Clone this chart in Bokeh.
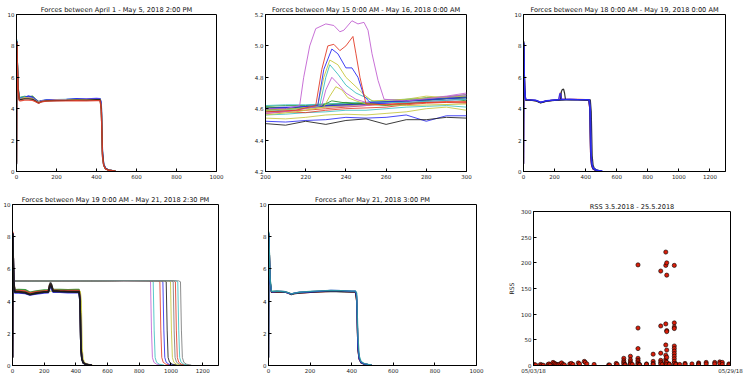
import pandas as pd
from bokeh.plotting import figure
from bokeh.layouts import column, row
from bokeh.models import Range1d, FixedTicker, DatetimeTickFormatter, PrintfTickFormatter, Spacer
from bokeh.embed import file_html
from bokeh.resources import INLINE

# ---------------- data ----------------
TITLES = [
    "Forces between April 1 - May 5, 2018 2:00 PM",
    "Forces between May 15 0:00 AM - May 16, 2018 0:00 AM",
    "Forces between May 18 0:00 AM - May 19, 2018 0:00 AM",
    "Forces between May 19 0:00 AM - May 21, 2018 2:30 PM",
    "Forces after May 21, 2018 3:00 PM",
    "RSS 3.5.2018 - 25.5.2018",
]
TICKS_0_1000 = [0, 200, 400, 600, 800, 1000]
TICKS_0_1200 = [0, 200, 400, 600, 800, 1000, 1200]
TICKS_0_10 = [0, 2, 4, 6, 8, 10]
TICKS_200_300 = [200, 220, 240, 260, 280, 300]
TICKS_42_52 = [4.2, 4.4, 4.6, 4.8, 5.0, 5.2]
TICKS_RSS = [0, 50, 100, 150, 200, 250, 300]
DATE_TICKS = ["2018-05-03", "2018-05-29"]

# Panel 1 (April 1 - May 5)
P1_X = [0, 2, 4, 8, 14, 20, 40, 60, 80, 95, 110, 125, 150, 200, 250, 300, 350, 400, 418, 424, 430, 436, 445, 460, 480, 495]
P1_COLORS = ["g", "c", "b", "m", "y", "k", "r"]
P1_Y = [
    [0.6, 8.2, 7.2, 5.4, 4.7, 4.72, 4.78, 4.75, 4.8, 4.6, 4.45, 4.5, 4.55, 4.57, 4.56, 4.6, 4.58, 4.62, 4.6, 4.3, 1.2, 0.45, 0.2, 0.1, 0.06, 0.04],
    [0.4, 8.4, 7.0, 5.2, 4.65, 4.7, 4.75, 4.72, 4.7, 4.55, 4.42, 4.5, 4.55, 4.58, 4.6, 4.62, 4.6, 4.63, 4.62, 4.2, 1.0, 0.4, 0.18, 0.09, 0.05, 0.03],
    [0.5, 8.3, 7.1, 5.3, 4.62, 4.66, 4.7, 4.82, 4.72, 4.58, 4.43, 4.52, 4.56, 4.58, 4.6, 4.64, 4.62, 4.65, 4.64, 4.4, 1.3, 0.5, 0.22, 0.1, 0.06, 0.04],
    [0.5, 8.1, 6.9, 5.1, 4.6, 4.62, 4.68, 4.7, 4.66, 4.52, 4.4, 4.48, 4.52, 4.56, 4.56, 4.58, 4.6, 4.6, 4.6, 4.1, 0.9, 0.38, 0.17, 0.08, 0.05, 0.03],
    [0.5, 8.2, 7.0, 5.2, 4.58, 4.6, 4.7, 4.68, 4.64, 4.5, 4.4, 4.47, 4.5, 4.55, 4.55, 4.57, 4.56, 4.58, 4.58, 4.0, 1.0, 0.4, 0.17, 0.08, 0.05, 0.03],
    [0.5, 8.3, 7.1, 5.3, 4.55, 4.58, 4.62, 4.62, 4.6, 4.48, 4.36, 4.45, 4.5, 4.52, 4.53, 4.55, 4.55, 4.57, 4.57, 4.0, 1.1, 0.42, 0.18, 0.09, 0.05, 0.03],
    [0.5, 8.2, 7.0, 5.2, 4.52, 4.5, 4.55, 4.55, 4.53, 4.45, 4.35, 4.43, 4.48, 4.5, 4.5, 4.52, 4.5, 4.52, 4.52, 3.9, 1.0, 0.4, 0.17, 0.08, 0.05, 0.03],
]

# Panel 2 (zoom 200-300): baseline curves
P2_BASE_X = [200, 210, 220, 230, 240, 250, 260, 270, 280, 290, 300]
P2_BASE_COLORS = ["k", "b", "g", "r", "c", "y", "b", "k", "m", "y", "g", "r", "c", "b"]
P2_BASE_Y = [
    [4.60, 4.605, 4.61, 4.62, 4.625, 4.63, 4.64, 4.65, 4.655, 4.665, 4.675],
    [4.605, 4.61, 4.61, 4.615, 4.62, 4.63, 4.64, 4.645, 4.66, 4.67, 4.68],
    [4.615, 4.62, 4.62, 4.63, 4.63, 4.64, 4.645, 4.655, 4.67, 4.675, 4.69],
    [4.58, 4.585, 4.59, 4.60, 4.61, 4.62, 4.63, 4.635, 4.64, 4.645, 4.64],
    [4.56, 4.565, 4.575, 4.58, 4.59, 4.59, 4.60, 4.61, 4.615, 4.62, 4.61],
    [4.54, 4.535, 4.545, 4.56, 4.565, 4.56, 4.57, 4.58, 4.60, 4.61, 4.59],
    [4.52, 4.515, 4.525, 4.53, 4.545, 4.54, 4.545, 4.56, 4.52, 4.555, 4.555],
    [4.505, 4.495, 4.52, 4.50, 4.525, 4.535, 4.50, 4.53, 4.53, 4.545, 4.54],
    [4.595, 4.60, 4.605, 4.61, 4.615, 4.62, 4.635, 4.65, 4.665, 4.68, 4.70],
    [4.59, 4.595, 4.60, 4.61, 4.62, 4.63, 4.64, 4.66, 4.68, 4.67, 4.66],
    [4.61, 4.605, 4.61, 4.62, 4.64, 4.63, 4.62, 4.63, 4.65, 4.665, 4.65],
    [4.57, 4.58, 4.575, 4.59, 4.60, 4.605, 4.61, 4.625, 4.635, 4.64, 4.635],
    [4.62, 4.625, 4.625, 4.63, 4.635, 4.64, 4.655, 4.66, 4.665, 4.665, 4.66],
    [4.60, 4.605, 4.605, 4.62, 4.625, 4.63, 4.635, 4.65, 4.66, 4.67, 4.68],
]
# Panel 2: curves with a peak
P2_PEAK_COLORS = ["g", "y", "m", "c", "y", "b", "r", "m"]
P2_PEAK_X = [
    [200, 220, 228, 233, 238, 245, 270, 300],
    [200, 215, 229, 232, 235, 238, 241, 245, 250, 270, 300],
    [200, 215, 228, 230, 233, 236, 240, 245, 250, 270, 300],
    [200, 215, 227, 230, 232, 236, 240, 245, 250, 255, 270, 300],
    [200, 215, 226, 229, 232, 236, 240, 245, 249, 253, 270, 300],
    [200, 215, 226, 229, 233, 236, 240, 243, 246, 249, 252, 270, 300],
    [200, 215, 225, 228, 231, 234, 237, 240, 243.5, 245, 247, 250, 260, 280, 300],
    [200, 210, 217, 219, 222, 225, 230, 234, 237, 239, 243, 246, 249, 251, 253, 256, 259, 270, 285, 300],
]
P2_PEAK_Y = [
    [4.59, 4.61, 4.62, 4.65, 4.64, 4.63, 4.65, 4.67],
    [4.56, 4.58, 4.61, 4.68, 4.74, 4.72, 4.67, 4.65, 4.63, 4.62, 4.63],
    [4.57, 4.59, 4.62, 4.72, 4.80, 4.76, 4.70, 4.66, 4.64, 4.64, 4.66],
    [4.58, 4.60, 4.62, 4.80, 4.88, 4.82, 4.75, 4.70, 4.67, 4.64, 4.64, 4.66],
    [4.59, 4.60, 4.62, 4.80, 4.91, 4.88, 4.80, 4.74, 4.69, 4.65, 4.66, 4.68],
    [4.60, 4.61, 4.62, 4.85, 4.98, 4.95, 4.86, 4.86, 4.80, 4.68, 4.64, 4.65, 4.67],
    [4.58, 4.59, 4.62, 4.85, 5.00, 5.01, 4.97, 5.00, 5.06, 4.95, 4.80, 4.63, 4.625, 4.64, 4.645],
    [4.60, 4.60, 4.62, 4.80, 5.00, 5.11, 5.14, 5.13, 5.09, 5.10, 5.16, 5.14, 5.15, 5.10, 4.95, 4.78, 4.66, 4.65, 4.67, 4.69],
]

# Panel 3 (May 18 - May 19)
P3_COLORS = ["r", "m", "k", "k", "b", "b"]
P3_X = [
    [0, 2, 4, 8, 14, 40, 80, 110, 150, 200, 228, 233, 237, 241, 246, 300, 350, 400, 420, 426, 432, 438, 446, 460, 480, 500],
    [0, 2, 4, 8, 14, 40, 80, 110, 150, 200, 228, 233, 237, 241, 246, 300, 350, 400, 420, 426, 432, 438, 446, 460, 480, 500],
    [0, 2, 4, 8, 14, 40, 80, 110, 150, 200, 250, 300, 350, 400, 420, 426, 432, 438, 446, 460, 480, 500],
    [0, 2, 4, 8, 14, 40, 80, 110, 150, 200, 238, 244, 250, 258, 264, 270, 300, 350, 400, 430, 436, 442, 448, 456, 470, 490, 505],
    [0, 2, 4, 8, 14, 40, 80, 110, 150, 200, 226, 232, 236, 240, 246, 300, 350, 400, 420, 426, 432, 438, 446, 460, 480, 505],
    [0, 2, 4, 8, 14, 40, 80, 110, 150, 200, 250, 300, 350, 400, 425, 431, 437, 443, 452, 470, 490, 510],
]
P3_Y = [
    [0.5, 8.1, 6.9, 5.1, 4.57, 4.56, 4.52, 4.4, 4.5, 4.55, 4.58, 4.85, 5.02, 4.85, 4.6, 4.6, 4.6, 4.58, 4.58, 4.0, 1.0, 0.4, 0.18, 0.08, 0.05, 0.03],
    [0.5, 8.0, 6.9, 5.1, 4.56, 4.55, 4.52, 4.41, 4.5, 4.55, 4.57, 4.72, 4.82, 4.72, 4.6, 4.59, 4.58, 4.57, 4.57, 4.0, 1.0, 0.4, 0.18, 0.08, 0.05, 0.03],
    [0.5, 8.3, 7.1, 5.3, 4.55, 4.55, 4.5, 4.36, 4.48, 4.53, 4.55, 4.57, 4.56, 4.55, 4.55, 4.1, 1.1, 0.42, 0.18, 0.09, 0.05, 0.03],
    [0.5, 8.2, 7.0, 5.2, 4.55, 4.55, 4.52, 4.38, 4.5, 4.55, 4.58, 5.1, 5.22, 5.25, 5.0, 4.6, 4.58, 4.57, 4.56, 4.56, 3.8, 1.0, 0.4, 0.2, 0.1, 0.05, 0.03],
    [0.5, 8.2, 7.0, 5.2, 4.58, 4.56, 4.53, 4.4, 4.5, 4.55, 4.58, 4.9, 4.98, 4.9, 4.6, 4.6, 4.58, 4.58, 4.57, 4.2, 1.3, 0.5, 0.22, 0.1, 0.05, 0.03],
    [0.5, 8.2, 7.0, 5.2, 4.6, 4.57, 4.54, 4.42, 4.52, 4.56, 4.58, 4.6, 4.58, 4.57, 4.57, 4.0, 1.0, 0.4, 0.2, 0.1, 0.05, 0.03],
]

# Panel 4 (May 19 - May 21): upper group (long runs at ~5.25)
P4_UP_COLORS = ["m", "c", "r", "b", "k", "y", "grey", "r", "c", "grey"]
P4_UP_X = [
    [0, 2, 4, 8, 14, 100, 300, 500, 700, 859, 871, 877, 883, 892, 909, 939],
    [0, 2, 4, 8, 14, 100, 300, 500, 700, 876, 888, 894, 900, 909, 926, 956],
    [0, 2, 4, 8, 14, 100, 300, 500, 700, 918, 930, 936, 942, 951, 968, 998],
    [0, 2, 4, 8, 14, 100, 300, 500, 700, 937, 949, 955, 961, 970, 987, 1017],
    [0, 2, 4, 8, 14, 100, 300, 500, 700, 958, 970, 976, 982, 991, 1008, 1038],
    [0, 2, 4, 8, 14, 100, 300, 500, 700, 985, 997, 1003, 1009, 1018, 1035, 1065],
    [0, 2, 4, 8, 14, 100, 300, 500, 700, 1002, 1014, 1020, 1026, 1035, 1052, 1082],
    [0, 2, 4, 8, 14, 100, 300, 500, 700, 1016, 1028, 1034, 1040, 1049, 1066, 1096],
    [0, 2, 4, 8, 14, 100, 300, 500, 700, 1031, 1043, 1049, 1055, 1064, 1081, 1111],
    [0, 2, 4, 8, 14, 100, 300, 500, 700, 1048, 1060, 1066, 1072, 1081, 1098, 1128],
]
P4_UP_Y = [0.5, 8.2, 7.0, 5.5, 5.25, 5.24, 5.26, 5.25, 5.27, 5.26, 5.2, 2.2, 0.5, 0.2, 0.08, 0.03]
# Panel 4: lower group (drop near 430)
P4_LOW_X = [0, 2, 4, 8, 14, 40, 80, 110, 150, 200, 226, 232, 240, 248, 256, 300, 350, 400, 420, 426, 432, 438, 446, 460, 480, 500]
P4_LOW_COLORS = ["g", "r", "b", "k", "k"]
P4_LOW_Y = [
    [0.5, 8.1, 7.0, 5.2, 4.7, 4.72, 4.7, 4.55, 4.62, 4.68, 4.7, 4.8, 4.9, 4.85, 4.72, 4.72, 4.7, 4.72, 4.72, 4.2, 1.0, 0.4, 0.17, 0.08, 0.05, 0.03],
    [0.5, 8.3, 7.1, 5.3, 4.65, 4.66, 4.62, 4.5, 4.58, 4.63, 4.65, 4.9, 5.05, 4.9, 4.68, 4.66, 4.65, 4.66, 4.66, 4.2, 1.1, 0.42, 0.18, 0.09, 0.05, 0.03],
    [0.5, 8.2, 7.0, 5.2, 4.5, 4.5, 4.48, 4.38, 4.45, 4.5, 4.52, 4.8, 4.9, 4.7, 4.55, 4.55, 4.52, 4.52, 4.52, 4.0, 1.0, 0.4, 0.17, 0.08, 0.05, 0.03],
    [0.5, 8.2, 7.0, 5.2, 4.6, 4.6, 4.55, 4.42, 4.52, 4.58, 4.6, 4.95, 5.15, 5.0, 4.65, 4.62, 4.6, 4.6, 4.6, 4.1, 1.1, 0.42, 0.18, 0.09, 0.05, 0.03],
    [0.5, 8.2, 7.0, 5.2, 4.55, 4.55, 4.5, 4.4, 4.48, 4.55, 4.56, 4.7, 5.0, 4.85, 4.6, 4.58, 4.57, 4.56, 4.56, 4.0, 1.0, 0.4, 0.17, 0.08, 0.05, 0.03],
]
P4_YEL_X = [0, 2, 4, 8, 14, 40, 80, 110, 150, 200, 250, 300, 350, 400, 428, 434, 440, 446, 455, 470, 490, 505]
P4_YEL_Y = [0.5, 8.1, 7.0, 5.2, 4.62, 4.62, 4.58, 4.45, 4.55, 4.6, 4.62, 4.62, 4.6, 4.6, 4.6, 4.0, 1.0, 0.4, 0.18, 0.09, 0.05, 0.03]

# Panel 5 (after May 21)
P5_X = [0, 2, 4, 8, 14, 20, 40, 60, 80, 95, 110, 125, 150, 200, 250, 300, 350, 400, 418, 424, 430, 436, 445, 460, 480, 495]
P5_COLORS = ["r", "g", "m", "k", "b", "teal"]
P5_Y = [
    [0.5, 8.1, 7.0, 5.2, 4.55, 4.55, 4.56, 4.55, 4.55, 4.5, 4.42, 4.47, 4.5, 4.55, 4.58, 4.6, 4.6, 4.57, 4.57, 4.0, 1.0, 0.4, 0.17, 0.08, 0.05, 0.03],
    [0.5, 8.2, 7.1, 5.3, 4.6, 4.6, 4.62, 4.6, 4.58, 4.52, 4.45, 4.5, 4.54, 4.58, 4.62, 4.65, 4.64, 4.6, 4.6, 4.2, 1.1, 0.42, 0.18, 0.09, 0.05, 0.03],
    [0.5, 8.0, 6.9, 5.1, 4.57, 4.57, 4.58, 4.57, 4.56, 4.5, 4.43, 4.48, 4.52, 4.56, 4.6, 4.63, 4.62, 4.58, 4.58, 4.1, 1.0, 0.4, 0.17, 0.08, 0.05, 0.03],
    [0.5, 8.2, 7.0, 5.2, 4.55, 4.56, 4.57, 4.56, 4.55, 4.5, 4.4, 4.46, 4.5, 4.55, 4.58, 4.6, 4.58, 4.56, 4.56, 4.0, 1.0, 0.4, 0.17, 0.08, 0.05, 0.03],
    [0.5, 8.2, 7.0, 5.2, 4.6, 4.58, 4.6, 4.6, 4.58, 4.5, 4.45, 4.5, 4.55, 4.58, 4.62, 4.66, 4.65, 4.62, 4.62, 4.3, 1.2, 0.45, 0.2, 0.1, 0.06, 0.04],
    [0.5, 8.3, 7.2, 5.4, 4.6, 4.6, 4.62, 4.6, 4.58, 4.52, 4.44, 4.5, 4.55, 4.6, 4.63, 4.66, 4.65, 4.62, 4.62, 4.5, 1.8, 0.6, 0.25, 0.12, 0.07, 0.05],
]

# Panel 6: RSS scatter
RSS_TIME = [
    "2018-05-03 02:00", "2018-05-03 07:00", "2018-05-03 22:00", "2018-05-04 02:00", "2018-05-04 07:00",
    "2018-05-04 22:00", "2018-05-05 01:00", "2018-05-05 05:00", "2018-05-05 14:00", "2018-05-05 18:00",
    "2018-05-05 22:00", "2018-05-06 02:00", "2018-05-06 06:00", "2018-05-06 12:00", "2018-05-06 17:00",
    "2018-05-06 22:00", "2018-05-07 02:00", "2018-05-07 19:00", "2018-05-08 00:00", "2018-05-08 05:00",
    "2018-05-08 22:00", "2018-05-09 02:00", "2018-05-09 17:00", "2018-05-09 20:00", "2018-05-10 01:00",
    "2018-05-11 00:00", "2018-05-12 22:00", "2018-05-13 01:00", "2018-05-13 22:00", "2018-05-14 01:00",
    "2018-05-14 22:00", "2018-05-14 22:00", "2018-05-14 22:00", "2018-05-14 22:00",
    "2018-05-15 02:00", "2018-05-15 02:00",
    "2018-05-15 19:00", "2018-05-15 19:00", "2018-05-15 19:00", "2018-05-15 19:00", "2018-05-15 19:00",
    "2018-05-16 01:00",
    "2018-05-16 19:00", "2018-05-16 19:00", "2018-05-16 19:00", "2018-05-16 19:00", "2018-05-16 19:00",
    "2018-05-16 19:00", "2018-05-16 19:00", "2018-05-16 19:00",
    "2018-05-17 00:00", "2018-05-17 00:00", "2018-05-17 22:00", "2018-05-17 22:00",
    "2018-05-18 19:00", "2018-05-18 19:00", "2018-05-18 19:00", "2018-05-18 19:00",
    "2018-05-19 19:00", "2018-05-19 19:00", "2018-05-19 19:00", "2018-05-19 19:00", "2018-05-19 19:00",
    "2018-05-19 19:00", "2018-05-20 00:00",
    "2018-05-20 11:00", "2018-05-20 11:00", "2018-05-20 11:00", "2018-05-20 11:00", "2018-05-20 11:00",
    "2018-05-20 11:00", "2018-05-20 11:00", "2018-05-20 11:00",
    "2018-05-20 14:00", "2018-05-20 14:00", "2018-05-20 14:00", "2018-05-20 14:00", "2018-05-20 14:00",
    "2018-05-20 14:00", "2018-05-20 14:00", "2018-05-20 14:00",
    "2018-05-20 22:00", "2018-05-20 22:00",
    "2018-05-21 14:00", "2018-05-21 14:00", "2018-05-21 14:00", "2018-05-21 14:00", "2018-05-21 14:00",
    "2018-05-21 14:00", "2018-05-21 14:00", "2018-05-21 14:00", "2018-05-21 14:00", "2018-05-21 14:00",
    "2018-05-21 14:00", "2018-05-21 14:00",
    "2018-05-21 19:00", "2018-05-21 19:00", "2018-05-22 07:00", "2018-05-23 00:00", "2018-05-23 00:00",
    "2018-05-23 22:00", "2018-05-24 19:00", "2018-05-24 19:00", "2018-05-24 19:00",
    "2018-05-25 19:00", "2018-05-25 19:00", "2018-05-26 22:00", "2018-05-26 22:00",
    "2018-05-27 14:00", "2018-05-27 14:00", "2018-05-27 22:00", "2018-05-27 22:00",
    "2018-05-28 19:00", "2018-05-28 19:00",
]
RSS_VALUE = [
    2, 1, 2, 1, 0.5,
    2, 3, 1, 6, 4,
    3, 2, 1, 3, 5,
    2, 1, 3, 4, 2,
    5, 3, 8, 6, 3,
    2, 1, 1, 4, 2,
    14, 9, 6, 3,
    2, 1,
    18, 11, 7, 4, 2,
    2,
    196, 73, 33, 14, 10, 7, 4, 2,
    2, 1, 3, 2,
    22, 8, 4, 2,
    184, 77, 24, 10, 6, 3, 2,
    221, 195, 81, 40, 20, 12, 8, 4,
    200, 176, 68, 66, 30, 16, 6, 2,
    3, 2,
    195, 83, 75, 72, 38, 33, 28, 23, 18, 13, 8, 4,
    3, 2, 2, 4, 2,
    3, 5, 3, 1,
    6, 3, 6, 3,
    7, 4, 6, 2,
    3, 1,
]

# ---------------- styling ----------------
FONT = "DejaVu Sans"
COL = {"b": "#2a2af2", "g": "#2a8f2a", "r": "#e23c28", "c": "#3cc0c0", "m": "#c262d2",
       "y": "#c6c63c", "k": "#1a1a1a", "grey": "#7a7a7a", "teal": "#2a9a9a"}


def make_fig(title, w, h, left, right, top, bottom, xr, yr, xticks, yticks, x_axis_type="linear"):
    p = figure(width=w, height=h, output_backend="svg", toolbar_location=None,
               x_axis_type=x_axis_type, x_range=Range1d(*xr), y_range=Range1d(*yr),
               min_border_left=left, min_border_right=right,
               min_border_top=top, min_border_bottom=bottom)
    p.title.text = title
    p.title.text_font = FONT
    p.title.text_font_size = "6.6px"
    p.title.text_font_style = "normal"
    p.title.text_color = "#111111"
    p.title.align = "center"
    p.title.standoff = 2
    p.grid.visible = False
    p.outline_line_color = "black"
    p.outline_line_alpha = 1
    p.outline_line_width = 1
    p.background_fill_color = "white"
    p.border_fill_color = "white"
    for ax in p.axis:
        ax.axis_line_color = "black"
        ax.major_tick_in = 3
        ax.major_tick_out = 0
        ax.major_tick_line_color = "black"
        ax.minor_tick_line_color = None
        ax.major_label_text_font = FONT
        ax.major_label_text_font_size = "5.5px"
        ax.major_label_text_color = "#222222"
        ax.major_label_standoff = 2
    p.xaxis.ticker = FixedTicker(ticks=xticks)
    p.yaxis.ticker = FixedTicker(ticks=yticks)
    return p


# Top row (frames: y 14..171)
p1 = make_fig(TITLES[0], 245, 188, 16, 29, 14, 17, (0, 1000), (0, 10), TICKS_0_1000, TICKS_0_10)
for c, ys in zip(P1_COLORS, P1_Y):
    p1.line(P1_X, ys, line_color=COL[c], line_width=1.3, line_alpha=0.9)

p2 = make_fig(TITLES[1], 255, 188, 20, 34, 14, 17, (200, 300), (4.2, 5.2), TICKS_200_300, TICKS_42_52)
p2.yaxis.formatter = PrintfTickFormatter(format="%.1f")
for c, ys in zip(P2_BASE_COLORS, P2_BASE_Y):
    p2.line(P2_BASE_X, ys, line_color=COL[c], line_width=1.0, line_alpha=0.85)
for c, xs, ys in zip(P2_PEAK_COLORS, P2_PEAK_X, P2_PEAK_Y):
    p2.line(xs, ys, line_color=COL[c], line_width=1.0, line_alpha=0.9)

p3 = make_fig(TITLES[2], 245, 188, 23, 20, 14, 17, (0, 1300), (0, 10), TICKS_0_1200, TICKS_0_10)
for c, xs, ys in zip(P3_COLORS, P3_X, P3_Y):
    p3.line(xs, ys, line_color=COL[c], line_width=1.2, line_alpha=0.9)

# Bottom row (frames: y 204..365)
p4 = make_fig(TITLES[3], 250, 189, 11, 32, 16, 12, (0, 1300), (0, 10), TICKS_0_1200, TICKS_0_10)
for c, xs in zip(P4_UP_COLORS, P4_UP_X):
    p4.line(xs, P4_UP_Y, line_color=COL[c], line_width=1.0, line_alpha=0.85)
p4.line(P4_YEL_X, P4_YEL_Y, line_color=COL["y"], line_width=1.2, line_alpha=0.9)
for c, ys in zip(P4_LOW_COLORS, P4_LOW_Y):
    p4.line(P4_LOW_X, ys, line_color=COL[c], line_width=1.6, line_alpha=0.9)

p5 = make_fig(TITLES[4], 255, 189, 18, 29, 16, 12, (0, 1000), (0, 10), TICKS_0_1000, TICKS_0_10)
for c, ys in zip(P5_COLORS, P5_Y):
    p5.line(P5_X, ys, line_color=COL[c], line_width=1.3, line_alpha=0.9)

d0 = pd.Timestamp(DATE_TICKS[0])
d1 = pd.Timestamp(DATE_TICKS[1])
p6 = make_fig(TITLES[5], 240, 182, 26, 15, 16, 12, (d0, d1), (0, 300),
              [t.value // 10**6 for t in (d0, d1)], TICKS_RSS, x_axis_type="datetime")
fmt = "%m/%d/%y"
p6.xaxis.formatter = DatetimeTickFormatter(days=fmt, months=fmt, hours=fmt, hourmin=fmt,
                                           minutes=fmt, years=fmt, context=None)
p6.yaxis.axis_label = "RSS"
p6.yaxis.axis_label_text_font = FONT
p6.yaxis.axis_label_text_font_size = "6px"
p6.yaxis.axis_label_text_font_style = "normal"
p6.yaxis.axis_label_text_color = "#222222"
p6.yaxis.axis_label_standoff = 3
p6.scatter(pd.to_datetime(RSS_TIME), RSS_VALUE, marker="circle", size=4.2,
           fill_color="#d81e0a", line_color="black", line_width=0.6)

layout = column(row(p1, p2, p3),
                row(p4, p5, column(Spacer(width=240, height=7), p6)))
open("out.html", "w").write(file_html(layout, INLINE))
